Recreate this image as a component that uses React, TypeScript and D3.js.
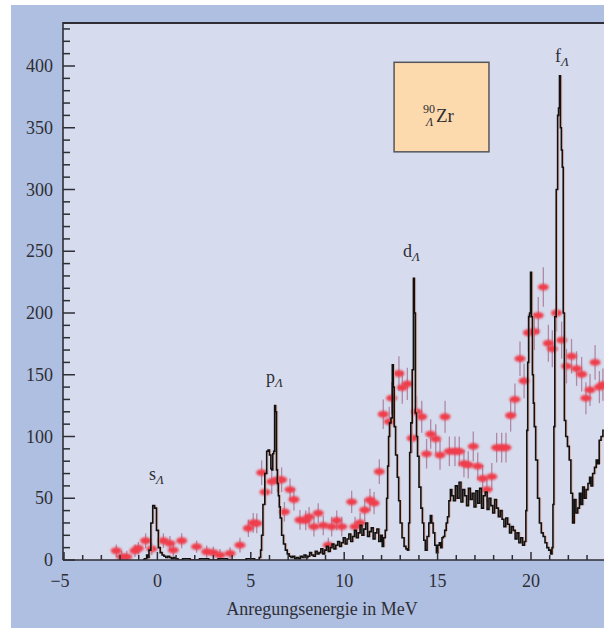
import React from "react";
import * as d3 from "d3";

// black spectrum: excitation energy (MeV) and counts
const specE = [
  -0.8, -0.6, -0.55, -0.5, -0.4, -0.3, -0.2, -0.1, 0.0, 0.1, 0.2, 0.3, 0.4, 0.5, 0.6, 0.7, 0.8, 0.9, 1.0, 1.2,
  1.5, 2.0, 2.5, 3.0, 3.5, 4.0, 4.5, 5.0, 5.4, 5.5, 5.55, 5.6, 5.7, 5.8, 5.9, 5.95, 6.05, 6.1, 6.15, 6.2,
  6.25, 6.3, 6.35, 6.4, 6.45, 6.5, 6.55, 6.6, 6.7, 6.8, 6.9, 7.0, 7.1, 7.2, 7.3, 7.4, 7.5, 7.6, 7.7, 7.8,
  7.9, 8.0, 8.1, 8.2, 8.3, 8.4, 8.5, 8.6, 8.7, 8.8, 8.9, 9.0, 9.1, 9.2, 9.3, 9.4, 9.5, 9.6, 9.7, 9.8,
  9.9, 10.0, 10.1, 10.2, 10.3, 10.4, 10.5, 10.6, 10.7, 10.8, 10.9, 11.0, 11.1, 11.2, 11.3, 11.4, 11.5, 11.6, 11.7, 11.8,
  11.9, 12.0, 12.07, 12.15, 12.24, 12.3, 12.35, 12.4, 12.46, 12.55, 12.6, 12.65, 12.7, 12.8, 12.88, 12.95, 13.04, 13.15, 13.26, 13.35,
  13.42, 13.48, 13.53, 13.6, 13.68, 13.73, 13.78, 13.84, 13.9, 13.95, 14.06, 14.15, 14.22, 14.3, 14.38, 14.49, 14.57, 14.65, 14.72, 14.8,
  14.9, 14.97, 15.05, 15.13, 15.2, 15.27, 15.34, 15.42, 15.5, 15.56, 15.65, 15.72, 15.8, 15.9, 16.0, 16.1, 16.2, 16.3, 16.4, 16.5,
  16.6, 16.7, 16.8, 16.9, 17.0, 17.1, 17.2, 17.3, 17.4, 17.5, 17.6, 17.7, 17.8, 17.9, 18.0, 18.1, 18.2, 18.3, 18.4, 18.5,
  18.6, 18.7, 18.8, 18.9, 19.0, 19.1, 19.2, 19.3, 19.4, 19.5, 19.6, 19.7, 19.75, 19.8, 19.85, 19.9, 19.95, 20.0, 20.05, 20.1,
  20.15, 20.2, 20.3, 20.4, 20.5, 20.6, 20.7, 20.8, 20.9, 21.0, 21.1, 21.15, 21.2, 21.25, 21.3, 21.4, 21.45, 21.5, 21.55, 21.6,
  21.65, 21.7, 21.75, 21.82, 21.9, 22.0, 22.09, 22.18, 22.27, 22.36, 22.45, 22.55, 22.63, 22.72, 22.81, 22.9, 23.0, 23.1, 23.17, 23.25,
  23.35, 23.45, 23.53, 23.6, 23.7, 23.8, 23.9,
];
const specN = [
  0, 1, 4, 2, 8, 30, 44, 42, 24, 10, 6, 4, 3, 2, 3, 2, 1, 2, 1, 0,
  1, 0, 1, 0, 1, 0, 0, 1, 0, 2, 8, 20, 45, 70, 88, 89, 85, 74, 73, 86,
  88, 125, 120, 73, 62, 52, 43, 34, 20, 13, 8, 5, 3, 2, 3, 1, 2, 1, 3, 2,
  4, 2, 3, 6, 4, 3, 7, 5, 6, 9, 5, 8, 11, 7, 10, 13, 9, 12, 15, 11,
  14, 18, 13, 17, 21, 15, 19, 24, 18, 22, 28, 20, 25, 30, 19, 23, 26, 17, 22, 25,
  15, 20, 11, 18, 24, 50, 76, 100, 111, 115, 158, 140, 108, 85, 67, 48, 30, 18, 11, 9,
  8, 30, 87, 111, 154, 228, 200, 119, 100, 84, 59, 42, 30, 16, 8, 19, 30, 36, 30, 22,
  12, 6, 12, 14, 10, 18, 19, 24, 30, 35, 48, 57, 52, 48, 60, 50, 63, 47, 57, 52,
  44, 58, 49, 54, 43, 56, 46, 58, 42, 52, 55, 41, 50, 44, 38, 49, 42, 35, 40, 33,
  27, 34, 29, 22, 27, 24, 17, 22, 14, 18, 12, 15, 40, 105, 160, 197, 200, 233, 197, 150,
  127, 108, 81, 50, 30, 22, 19, 14, 10, 8, 5, 10, 45, 108, 197, 300, 360, 366, 392, 350,
  332, 318, 200, 113, 100, 92, 81, 54, 30, 49, 38, 42, 54, 45, 59, 50, 57, 62, 67, 60,
  70, 75, 81, 78, 97, 100, 105,
];

// red data points with error bars
const ptE = [
  -2.2, -1.91, -1.64, -1.2, -1.02, -0.63, -0.3, 0.32, 0.67, 0.85, 1.3, 2.1, 2.64, 2.99, 3.35, 3.89, 4.42, 4.87, 5.13, 5.32,
  5.58, 5.76, 6.12, 6.42, 6.65, 6.8, 7.1, 7.31, 7.63, 7.94, 8.12, 8.38, 8.61, 8.88, 9.15, 9.33, 9.6, 9.87, 10.4, 10.58,
  10.85, 11.1, 11.38, 11.6, 11.88, 12.09, 12.41, 12.54, 12.93, 13.11, 13.38, 13.64, 13.88, 14.15, 14.41, 14.63, 14.9, 15.13, 15.4, 15.63,
  15.93, 16.16, 16.41, 16.64, 16.91, 17.15, 17.41, 17.64, 17.9, 18.16, 18.43, 18.66, 18.91, 19.14, 19.41, 19.63, 19.86, 20.18, 20.39, 20.66,
  20.93, 21.14, 21.37, 21.64, 21.9, 22.17, 22.44, 22.71, 22.94, 23.16, 23.43, 23.66, 23.85,
];
const ptN = [
  7.5, 2.5, 2.5, 7.5, 9.5, 15.6, 9, 15.6, 13.5, 8, 15.6, 10.8, 6.7, 5.9, 4, 5.4, 12, 25.7, 30, 29.7,
  70.7, 55, 63.4, 64.8, 65, 39, 57, 49, 32.4, 32, 35, 27, 38, 28, 12, 27, 32, 27, 47, 27,
  30, 40.5, 48.6, 46, 71.6, 118, 112, 131, 151, 139.6, 142.6, 98.6, 120, 116, 86, 102, 98, 85, 116, 88,
  88, 88, 78, 77, 92, 76, 66, 57, 67.5, 91, 91, 91, 117, 130, 163, 145, 184, 185, 198, 221,
  175.5, 171, 200, 178, 157, 165, 155, 150.4, 131, 137.7, 160, 140, 142,
];
const ptErr = [
  5, 5, 5, 5, 5, 6, 5, 6, 6, 5, 6, 5, 5, 5, 5, 5, 6, 7, 8, 8,
  10, 9, 10, 10, 10, 8, 9, 9, 8, 8, 8, 8, 8, 8, 6, 8, 8, 8, 9, 8,
  8, 9, 9, 9, 10, 12, 12, 13, 14, 13, 13, 12, 13, 13, 12, 12, 12, 12, 13, 12,
  12, 12, 11, 11, 12, 11, 11, 10, 11, 12, 12, 12, 13, 13, 14, 14, 15, 15, 15, 16,
  15, 15, 15, 15, 14, 14, 14, 14, 13, 13, 14, 13, 13,
];

const xMajor = [-5, 0, 5, 10, 15, 20];
const xMinor = d3.range(-5, 24, 1);
const yMajor = [0, 50, 100, 150, 200, 250, 300, 350, 400];
const yMinor = d3.range(0, 431, 10);

const peakLabels = [
  { t: "s", e: -0.45, n: 64.8 },
  { t: "p", e: 5.81, n: 143 },
  { t: "d", e: 13.15, n: 245 },
  { t: "f", e: 21.28, n: 403 },
];

const W = 604;
const H = 628;
const left = 63;
const top = 23;
const bottom = 560;
const serif = "'Liberation Serif', 'DejaVu Serif', serif";
const ink = "#2e2e34";

export default function App() {
  const x = d3.scaleLinear().domain([-5, 20]).range([left + 1, 531]);
  const y = d3.scaleLinear().domain([0, 400]).range([bottom, 66]);

  const spec = specE.map((e, i) => [e, specN[i]] as [number, number]);
  const lineGen = d3
    .line<[number, number]>()
    .x((d) => x(d[0]))
    .y((d) => y(d[1]))
    .curve(d3.curveStep);

  return (
    <div style={{ position: "absolute", left: 0, top: 0 }}>
      <svg width={W} height={H} style={{ display: "block" }}>
        <defs>
          <clipPath id="plot">
            <rect x={left} y={top} width={W - left} height={bottom - top} />
          </clipPath>
          <filter id="soft" x="-50%" y="-50%" width="200%" height="200%">
            <feGaussianBlur stdDeviation="0.8" />
          </filter>
        </defs>
        <rect width={W} height={H} fill="#fff" />
        <rect x={11} y={5} width={W - 11} height={H - 5} fill="#afbfe1" />
        <rect x={left} y={top} width={W - left} height={bottom - top} fill="#d6dcee" />

        <g clipPath="url(#plot)">
          {/* red points */}
          {ptE.map((e, i) => (
            <line
              key={"eb" + i}
              x1={x(e)}
              x2={x(e)}
              y1={y(ptN[i] + ptErr[i])}
              y2={y(Math.max(0, ptN[i] - ptErr[i]))}
              stroke="#a87a98"
              strokeWidth={1.3}
              opacity={0.85}
            />
          ))}
          {ptE.map((e, i) => (
            <ellipse
              key={"pt" + i}
              cx={x(e)}
              cy={y(ptN[i])}
              rx={5.5}
              ry={3.4}
              fill="#ef3c4c"
              filter="url(#soft)"
            />
          ))}

          {/* spectrum */}
          <path
            d={lineGen(spec) ?? ""}
            fill="none"
            stroke="#e8a088"
            strokeWidth={1.2}
            transform="translate(1.2,0)"
            opacity={0.7}
          />
          <path d={lineGen(spec) ?? ""} fill="none" stroke="#111" strokeWidth={1.6} />
        </g>

        {/* axes */}
        <line x1={left} x2={W} y1={top} y2={top} stroke={ink} strokeWidth={2} />
        <line x1={left} x2={left} y1={top - 1} y2={bottom} stroke={ink} strokeWidth={1.6} />
        <line x1={left} x2={W} y1={bottom} y2={bottom} stroke={ink} strokeWidth={1.6} />

        {yMinor.map((v) => (
          <line
            key={"ym" + v}
            x1={left}
            x2={left + (v % 50 === 0 ? 12 : 7)}
            y1={y(v)}
            y2={y(v)}
            stroke={ink}
            strokeWidth={1.5}
          />
        ))}
        {xMinor.map((v) => (
          <line
            key={"xm" + v}
            x1={x(v)}
            x2={x(v)}
            y1={bottom}
            y2={bottom - (v % 5 === 0 ? 8 : 5)}
            stroke={ink}
            strokeWidth={1.5}
          />
        ))}

        {yMajor.map((v) => (
          <text
            key={"yl" + v}
            x={left - 10}
            y={y(v) + 6}
            textAnchor="end"
            fontFamily={serif}
            fontSize={18}
            fill={ink}
          >
            {v}
          </text>
        ))}
        {xMajor.map((v) => (
          <text
            key={"xl" + v}
            x={x(v) - (v < 0 ? 4 : 0)}
            y={587}
            textAnchor="middle"
            fontFamily={serif}
            fontSize={18}
            fill={ink}
          >
            {v < 0 ? "\u2212" + Math.abs(v) : v}
          </text>
        ))}
        <text x={322} y={615} textAnchor="middle" fontFamily={serif} fontSize={18} fill={ink}>
          Anregungsenergie in MeV
        </text>

        {/* peak labels */}
        {peakLabels.map((p) => (
          <text key={p.t} x={x(p.e)} y={y(p.n)} fontFamily={serif} fontSize={18} fill={ink}>
            {p.t}
            <tspan fontSize={13} fontStyle="italic" dy={4}>
              Λ
            </tspan>
          </text>
        ))}

        {/* nucleus box */}
        <rect
          x={x(12.67)}
          y={y(403)}
          width={x(17.75) - x(12.67)}
          height={y(330.5) - y(403)}
          fill="#fdd9ae"
          stroke="#55565c"
          strokeWidth={1.5}
        />
        <text x={423} y={113} fontFamily={serif} fontSize={12} fill={ink}>
          90
        </text>
        <text x={426} y={126} fontFamily={serif} fontSize={12} fontStyle="italic" fill={ink}>
          Λ
        </text>
        <text x={436} y={122} fontFamily={serif} fontSize={19} fill={ink}>
          Zr
        </text>
      </svg>
    </div>
  );
}
